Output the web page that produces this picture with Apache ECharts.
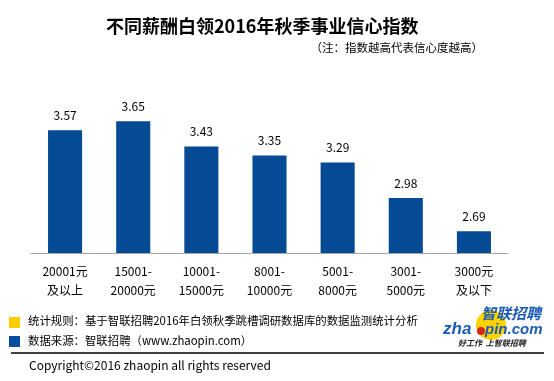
<!DOCTYPE html>
<html>
<head>
<meta charset="utf-8">
<script src="https://cdn.jsdelivr.net/npm/echarts@6/dist/echarts.min.js"></script>
<style>html,body{margin:0;padding:0;background:#fff;}#c{width:554px;height:381px;}</style>
</head>
<body>
<div id="c"></div>
<script>
var categories = ['20001元\n及以上', '15001-\n20000元', '10001-\n15000元', '8001-\n10000元', '5001-\n8000元', '3001-\n5000元', '3000元\n及以下'];
var values = [3.57, 3.65, 3.43, 3.35, 3.29, 2.98, 2.69];
var titleText = '不同薪酬白领2016年秋季事业信心指数';
var noteText = '（注：指数越高代表信心度越高）';
var ruleText = '统计规则：基于智联招聘2016年白领秋季跳槽调研数据库的数据监测统计分析';
var sourceText = '数据来源：智联招聘（www.zhaopin.com）';
var copyText = 'Copyright©2016 zhaopin all rights reserved';

var FONT = '"Noto Sans CJK SC", "Microsoft YaHei", sans-serif';
var LOGO = '"Liberation Sans", Arial, sans-serif';
var chart = echarts.init(document.getElementById('c'));
chart.setOption({
  backgroundColor: '#fff',
  animation: false,
  grid: { left: 31, right: 46, top: 104, bottom: 128 },
  xAxis: {
    type: 'category',
    data: categories,
    axisLine: { lineStyle: { color: '#a6a6a6', width: 1 } },
    axisTick: { length: 4, lineStyle: { color: '#a6a6a6' } },
    axisLabel: { color: '#000', fontSize: 12, fontFamily: FONT, lineHeight: 19, margin: 9 }
  },
  yAxis: {
    type: 'value', min: 2.5, max: 3.8,
    show: false, splitLine: { show: false }
  },
  series: [{
    type: 'bar',
    data: values,
    barWidth: '50%',
    itemStyle: { color: '#044a94' },
    label: { show: true, position: 'top', distance: 9, color: '#000', fontSize: 12, fontFamily: FONT, formatter: function (p) { return p.value.toFixed(2); } }
  }],
  graphic: [
    { type: 'text', left: 106, top: 17, style: { text: titleText, fontSize: 18, fontWeight: 'bold', fontFamily: FONT, fill: '#000' } },
    { type: 'text', right: 71, top: 42, style: { text: noteText, fontSize: 11.5, fontFamily: FONT, fill: '#000' } },
    { type: 'rect', shape: { x: 9, y: 317, width: 11, height: 11 }, style: { fill: '#ffcc00' } },
    { type: 'text', left: 28, top: 315, style: { text: ruleText, fontSize: 11.4, fontFamily: FONT, fill: '#000' } },
    { type: 'rect', shape: { x: 9, y: 336, width: 11, height: 11 }, style: { fill: '#0a4ea0' } },
    { type: 'text', left: 28, top: 335, style: { text: sourceText, fontSize: 11.4, fontFamily: FONT, fill: '#000' } },
    { type: 'line', shape: { x1: 11, y1: 353, x2: 544, y2: 353 }, style: { stroke: '#000', lineWidth: 1.5 } },
    { type: 'text', left: 29, top: 359, style: { text: copyText, fontSize: 12, fontFamily: FONT, fill: '#000' } },
    { type: 'circle', shape: { cx: 491, cy: 325, r: 15 }, style: { fill: '#ffd200' } },
    { type: 'text', left: 481, top: 306, style: { text: '智联招聘', fontSize: 15, fontWeight: 'bold', fontStyle: 'italic', fontFamily: FONT, fill: '#1a5bb5' } },
    { type: 'text', left: 443, top: 321, style: { text: 'zha', fontSize: 17, fontWeight: 'bold', fontStyle: 'italic', fontFamily: LOGO, fill: '#1a5bb5' } },
    { type: 'circle', shape: { cx: 481, cy: 331, r: 4 }, style: { fill: '#d9251c' } },
    { type: 'text', left: 485, top: 322, style: { text: 'pin.com', fontSize: 15, fontWeight: 'bold', fontStyle: 'italic', fontFamily: LOGO, fill: '#1a5bb5' } },
    { type: 'text', left: 458, top: 339, style: { text: '好工作  上智联招聘', fontSize: 8, fontWeight: 'bold', fontStyle: 'italic', fontFamily: FONT, fill: '#222' } }
  ]
});
</script>
</body>
</html>
